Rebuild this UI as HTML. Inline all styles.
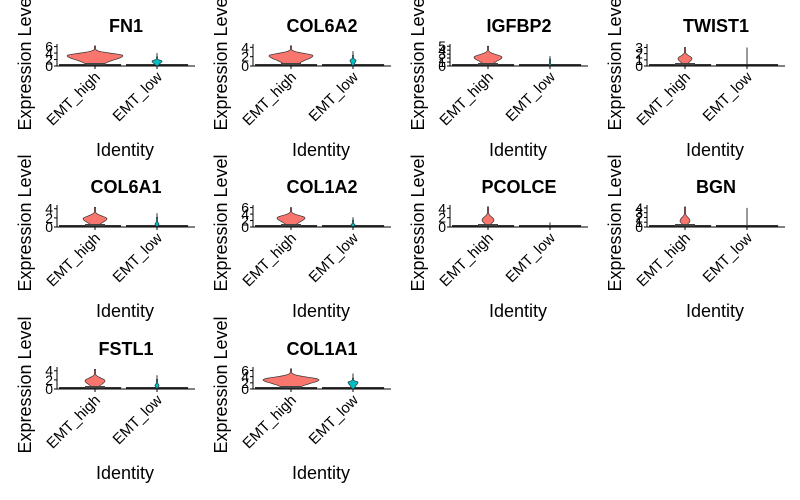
<!DOCTYPE html>
<html><head><meta charset="utf-8"><style>
body{margin:0;background:#fff;}
svg{display:block;font-family:"Liberation Sans",Arial,sans-serif;}
</style></head><body>
<svg id="c" width="800" height="500" xmlns="http://www.w3.org/2000/svg"></svg>
<script>
const genes=["FN1","COL6A2","IGFBP2","TWIST1","COL6A1","COL1A2","PCOLCE","BGN","FSTL1","COL1A1"];
const yMax=[6.5,4.5,5.3,3.4,4.6,6.5,4.5,4.4,4.6,6.8];
const tickStep=[2,2,1,1,2,2,2,1,2,2];
// high group: peak value, max value, peak half-width(px)
const highPeak=[3.2,2.2,2.2,1.2,1.8,2.8,1.5,1.3,1.8,3.0];
const highTop=[6.2,4.3,5.0,3.0,4.3,6.0,4.3,4.2,4.3,6.5];
const highWidth=[28,22,14,7,12,14,6,5,10,28];
// low group: blob value, max value, blob half-width(px)
const lowPeak=[1.5,1.2,0.3,0.2,0.6,0.6,0.2,0.2,0.8,2.2];
const lowTop=[4.0,3.2,2.5,3.0,3.0,3.0,1.0,4.0,3.0,5.0];
const lowWidth=[5,3,1,0,2,2,0,0,2,5];
const colX=[57,253,450,647], rowY=[66,227,389];
const svg=document.getElementById('c');
const NS="http://www.w3.org/2000/svg";
function mk(t,a,txt){const e=document.createElementNS(NS,t);for(const k in a)e.setAttribute(k,a[k]);if(txt!==undefined)e.textContent=txt;svg.appendChild(e);return e;}
function violinPts(cx,ys,peak,top,w){
  const L=[],R=[];const n=24;
  for(let k=0;k<=n;k++){
    const v=top*k/n;
    let hw;
    if(v<=peak){const s=Math.max(peak*0.55,0.3);hw=w*(0.25+0.75*Math.exp(-Math.pow((v-peak)/s,2)));}
    else{const s=Math.max((top-peak)/3,0.2);hw=w*Math.exp(-Math.pow((v-peak)/s,2));}
    hw=Math.max(hw,0.6);
    R.push(`${(cx+hw).toFixed(1)},${ys(v).toFixed(1)}`);L.unshift(`${(cx-hw).toFixed(1)},${ys(v).toFixed(1)}`);
  }
  return R.concat(L).join(' ');
}
genes.forEach((g,i)=>{
  const x0=colX[i%4], y0=rowY[Math.floor(i/4)], H=21, W=138;
  const ys=v=>y0-v/yMax[i]*H;
  const cx1=x0+38, cx2=x0+100;
  let e;
  e=mk('text',{x:x0+38+31,y:y0-34,'text-anchor':'middle','font-size':18,'font-weight':'bold',fill:'#000'},g);
  
  e=mk('text',{transform:`translate(${x0-26},${y0-4}) rotate(-90)`,'text-anchor':'middle','font-size':18,fill:'#000'},'Expression Level');
  
  e=mk('text',{x:x0+68,y:y0+90,'text-anchor':'middle','font-size':18,fill:'#000'},'Identity');
  
  for(let v=0;v<=yMax[i]+0.01;v+=tickStep[i]){
    e=mk('text',{x:x0-4,y:ys(v)+5,'text-anchor':'end','font-size':14,fill:'#000'},String(v));
    
    mk('line',{x1:x0-3,x2:x0,y1:ys(v),y2:ys(v),stroke:'#000','stroke-width':1});
  }
  mk('rect',{x:x0+2,y:y0-2,width:W*0.45,height:2,fill:'#333'});
  e=mk('polygon',{points:violinPts(cx1,ys,highPeak[i],highTop[i],highWidth[i]),fill:'#F8766D',stroke:'#333','stroke-width':0.7});
  
  mk('rect',{x:cx1-10,y:y0-3,width:20,height:3,fill:'#444'});
  mk('rect',{x:x0+W*0.5,y:y0-2,width:W*0.45,height:2,fill:'#333'});
  mk('line',{x1:cx2,x2:cx2,y1:ys(lowTop[i]),y2:y0,stroke:'#333','stroke-width':1});
  if(lowWidth[i]>0){e=mk('polygon',{points:violinPts(cx2,ys,lowPeak[i],lowTop[i]*0.7,lowWidth[i]),fill:'#00BFC4',stroke:'#333','stroke-width':0.7});
  }
  mk('line',{x1:x0,x2:x0,y1:y0-H-1,y2:y0,stroke:'#000','stroke-width':1});
  mk('line',{x1:x0,x2:x0+W,y1:y0,y2:y0,stroke:'#000','stroke-width':1});
  [[cx1,'EMT_high'],[cx2,'EMT_low']].forEach(([cx,l])=>{
    mk('line',{x1:cx,x2:cx,y1:y0,y2:y0+3,stroke:'#000'});
    e=mk('text',{transform:`translate(${cx+6},${y0+12}) rotate(-45)`,'text-anchor':'end','font-size':15,fill:'#000'},l);
    
  });
});
</script>
</body></html>
